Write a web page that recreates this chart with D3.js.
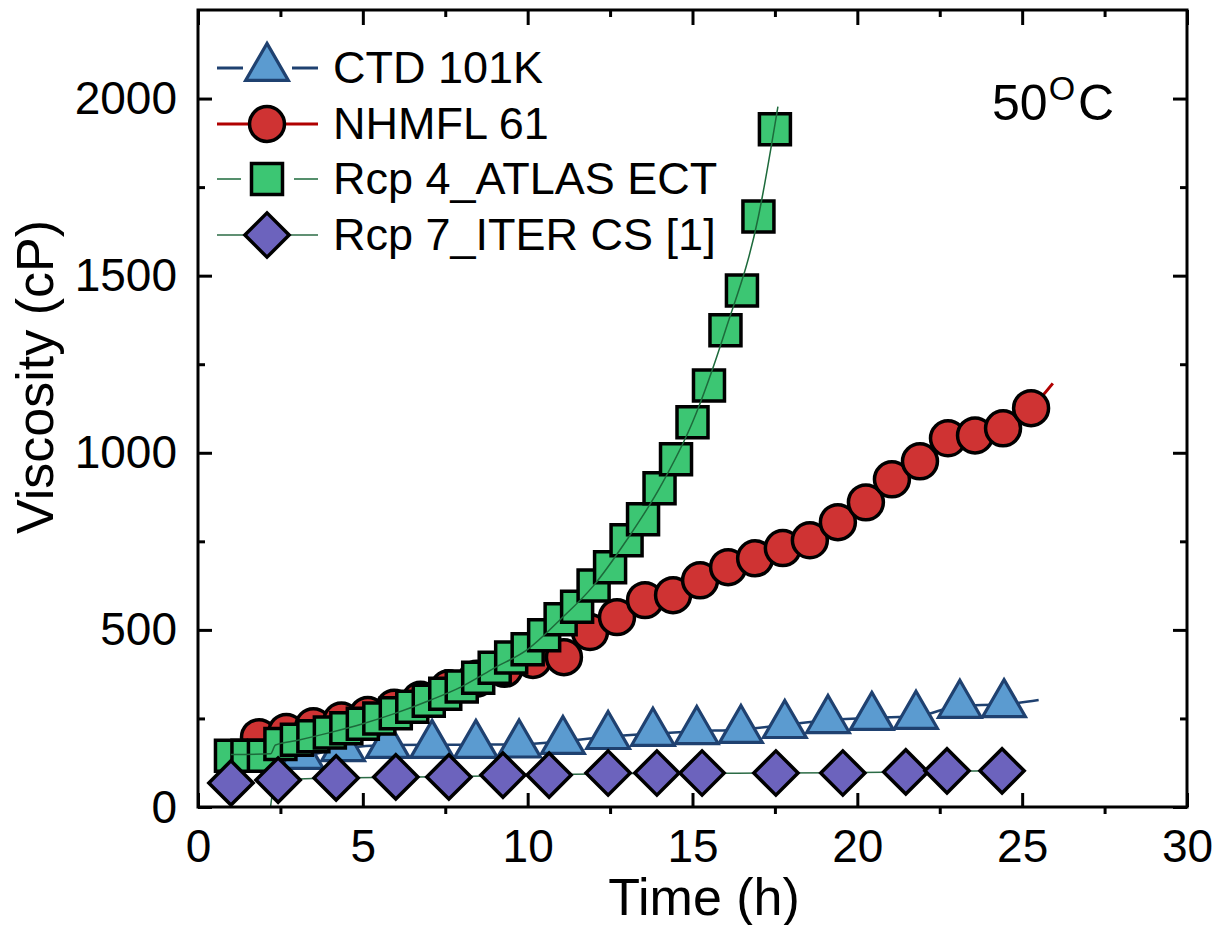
<!DOCTYPE html>
<html><head><meta charset="utf-8">
<script src="https://cdn.jsdelivr.net/npm/d3@7"></script>
<style>
body{margin:0;background:#fff}
svg{display:block}
text{font-family:"Liberation Sans",Arial,Helvetica,sans-serif;fill:#000}
</style>
</head><body>
<svg id="chart" width="1218" height="925"></svg>
<script>
// ---------- data ----------
const seriesNames = ["CTD 101K", "NHMFL 61", "Rcp 4_ATLAS ECT", "Rcp 7_ITER CS [1]"];

// CTD 101K (triangles)
const ctdTime = [3.15, 4.4, 5.76, 7.1, 8.43, 9.74, 11.07, 12.44, 13.8, 15.13, 16.47, 17.8, 19.11, 20.44, 21.78, 23.11, 24.45];
const ctdVisc = [144, 166, 175, 175, 175, 176, 186, 200, 209, 214, 217, 231, 245, 254, 257, 288, 290];
const ctdLineTime = [2.3, 3.15, 4.4, 5.8, 8.4, 9.7, 11.1, 12.4, 13.8, 15.1, 16.5, 17.8, 19.1, 20.4, 21.8, 23.1, 24.45, 25.5];
const ctdLineVisc = [140, 144, 166, 175, 176, 177, 186, 198, 207, 214, 219, 232, 245, 252, 256, 286, 290, 302];

// NHMFL 61 (circles)
const nhTime = [1.85, 2.68, 3.5, 4.35, 5.15, 5.95, 6.75, 7.6, 8.45, 9.3, 10.16, 11.1, 11.89, 12.71, 13.56, 14.41, 15.23, 16.08, 16.9, 17.74, 18.56, 19.41, 20.26, 21.05, 21.9, 22.75, 23.57, 24.42, 25.27];
const nhVisc = [197, 212, 228, 244, 260, 280, 303, 335, 362, 390, 415, 423, 494, 536, 584, 598, 640, 677, 702, 731, 753, 804, 860, 925, 976, 1041, 1049, 1069, 1126];
const nhLineTime = [1.85, 2.68, 3.5, 4.35, 5.15, 5.95, 6.75, 7.6, 8.45, 9.3, 10.16, 11.1, 11.89, 12.71, 13.56, 14.41, 15.23, 16.08, 16.9, 17.74, 18.56, 19.41, 20.26, 21.05, 21.9, 22.75, 23.57, 24.42, 25.27, 25.93];
const nhLineVisc = [197, 212, 228, 244, 260, 280, 303, 335, 362, 390, 415, 423, 494, 536, 584, 598, 640, 677, 702, 731, 753, 804, 860, 925, 976, 1041, 1049, 1069, 1126, 1196];

// Rcp 4_ATLAS ECT (squares)
const r4Time = [1.0, 1.5, 2.0, 2.5, 3.0, 3.5, 4.0, 4.5, 5.0, 5.5, 6.0, 6.5, 7.0, 7.5, 8.0, 8.5, 9.0, 9.5, 10.0, 10.5, 11.0, 11.5, 12.0, 12.5, 13.0, 13.5, 14.0, 14.5, 15.0, 15.5, 16.0, 16.5, 17.0, 17.5];
const r4Visc = [145, 145, 145, 178, 190, 200, 210, 222, 235, 250, 265, 283, 300, 320, 340, 365, 393, 422, 445, 485, 530, 565, 625, 677, 753, 812, 900, 982, 1086, 1190, 1346, 1458, 1667, 1913];
const r4LineTime = [1.0, 2.2, 2.35, 3.0, 4.0, 5.0, 6.0, 7.0, 8.0, 9.0, 10.0, 11.0, 12.0, 13.0, 14.0, 15.0, 16.0, 17.0, 17.59];
const r4LineVisc = [148, 150, 175, 188, 210, 235, 265, 300, 340, 393, 445, 530, 625, 753, 900, 1086, 1346, 1667, 1977];

// Rcp 7_ITER CS [1] (diamonds)
const r7Time = [1.0, 2.43, 4.19, 6.0, 7.61, 9.25, 10.65, 12.44, 13.92, 15.29, 17.53, 19.56, 21.47, 22.72, 24.39];
const r7Visc = [68, 76, 82, 85, 85, 90, 90, 96, 96, 96, 96, 96, 99, 102, 102];
const r7LineTime = [2.2, 2.35, 4.2, 6.0, 9.3, 12.4, 15.3, 17.5, 19.6, 21.5, 22.7, 24.4];
const r7LineVisc = [0, 75, 82, 84, 88, 94, 95, 96, 97, 99, 101, 102];

const xTicks = [0, 5, 10, 15, 20, 25, 30];
const xMinor = [2.5, 7.5, 12.5, 17.5, 22.5, 27.5];
const yTicks = [0, 500, 1000, 1500, 2000];
const yMinor = [250, 750, 1250, 1750];

// ---------- layout ----------
const svg = d3.select("#chart");
const L = 198, R = 1187, T = 10, B = 807;
const x = d3.scaleLinear().domain([0, 30]).range([L, R]);
const y = d3.scaleLinear().domain([0, 2250]).range([B, T]);

const styles = [
  {fill: "#5b9bd0", stroke: "#1f4170", sw: 3.2, line: "#1f4170", lw: 2.5, type: "tri"},
  {fill: "#cf3333", stroke: "#000", sw: 3.5, line: "#b00000", lw: 3, type: "circ"},
  {fill: "#3cc673", stroke: "#000", sw: 3.5, line: "#1d6a3b", lw: 1.5, type: "sq"},
  {fill: "#6c63bd", stroke: "#000", sw: 3.5, line: "#2b6b45", lw: 1.5, type: "dia"}
];
function symPath(type) {
  if (type === "tri") return d3.symbol().type(d3.symbolTriangle).size(790)();
  if (type === "circ") return d3.symbol().type(d3.symbolCircle).size(960)();
  if (type === "sq") return d3.symbol().type(d3.symbolSquare).size(961)();
  return d3.symbol().type(d3.symbolSquare).size(980)();
}
function symTransform(type, px, py) {
  return `translate(${px},${py})` + (type === "dia" ? " rotate(45)" : "");
}

const lineGen = d3.line().x(d => x(d[0])).y(d => y(d[1])).curve(d3.curveMonotoneX);
const zip = (a, b) => a.map((v, i) => [v, b[i]]);

const series = [
  {pts: zip(ctdTime, ctdVisc), line: zip(ctdLineTime, ctdLineVisc), lineOnTop: false},
  {pts: zip(nhTime, nhVisc), line: zip(nhLineTime, nhLineVisc), lineOnTop: false},
  {pts: zip(r4Time, r4Visc), line: zip(r4LineTime, r4LineVisc), lineOnTop: true},
  {pts: zip(r7Time, r7Visc), line: zip(r7LineTime, r7LineVisc), lineOnTop: false}
];

const plot = svg.append("g");
function drawLine(g, s, st) {
  g.append("path").attr("d", lineGen(s.line)).attr("fill", "none")
    .attr("stroke", st.line).attr("stroke-width", st.lw);
}
function drawMarkers(g, s, st) {
  g.selectAll(null).data(s.pts).enter().append("path")
    .attr("d", symPath(st.type))
    .attr("transform", d => symTransform(st.type, x(d[0]), y(d[1])))
    .attr("fill", st.fill).attr("stroke", st.stroke).attr("stroke-width", st.sw)
    .attr("stroke-linejoin", "miter");
}
series.forEach((s, i) => {
  const st = styles[i];
  const g = plot.append("g");
  if (!s.lineOnTop) drawLine(g, s, st);
  drawMarkers(g, s, st);
  if (s.lineOnTop) drawLine(g, s, st);
});

// ---------- axes ----------
const axG = svg.append("g");
const bottomMajor = axG.append("g").attr("transform", `translate(0,${B})`)
  .call(d3.axisBottom(x).tickValues(xTicks).tickSize(-14).tickFormat(d3.format("d")));
bottomMajor.select(".domain").remove();
bottomMajor.selectAll("text").attr("y", 55).attr("dy", 0).attr("font-size", 46)
  .attr("font-family", "'Liberation Sans',Arial,sans-serif").attr("fill", "#000");
const bottomMinor = axG.append("g").attr("transform", `translate(0,${B})`)
  .call(d3.axisBottom(x).tickValues(xMinor).tickSize(7).tickFormat(""));
bottomMinor.select(".domain").remove();
const topMajor = axG.append("g").attr("transform", `translate(0,${T})`)
  .call(d3.axisTop(x).tickValues(xTicks).tickSize(-15).tickFormat(""));
topMajor.select(".domain").remove();
const topMinor = axG.append("g").attr("transform", `translate(0,${T})`)
  .call(d3.axisTop(x).tickValues(xMinor).tickSize(-7).tickFormat(""));
topMinor.select(".domain").remove();
const leftMajor = axG.append("g").attr("transform", `translate(${L},0)`)
  .call(d3.axisLeft(y).tickValues(yTicks).tickSize(-14).tickFormat(d3.format("d")));
leftMajor.select(".domain").remove();
leftMajor.selectAll("text").attr("x", -21).attr("dy", 0).attr("y", 15).attr("font-size", 46)
  .attr("font-family", "'Liberation Sans',Arial,sans-serif").attr("fill", "#000");
const leftMinor = axG.append("g").attr("transform", `translate(${L},0)`)
  .call(d3.axisLeft(y).tickValues(yMinor).tickSize(-7).tickFormat(""));
leftMinor.select(".domain").remove();
const rightMajor = axG.append("g").attr("transform", `translate(${R},0)`)
  .call(d3.axisRight(y).tickValues(yTicks).tickSize(-14).tickFormat(""));
rightMajor.select(".domain").remove();
const rightMinor = axG.append("g").attr("transform", `translate(${R},0)`)
  .call(d3.axisRight(y).tickValues(yMinor).tickSize(-7).tickFormat(""));
rightMinor.select(".domain").remove();
axG.selectAll(".tick line").attr("stroke", "#000").attr("stroke-width", 3);
axG.append("rect").attr("x", L).attr("y", T).attr("width", R - L).attr("height", B - T)
  .attr("fill", "none").attr("stroke", "#000").attr("stroke-width", 3);

// axis titles
svg.append("text").attr("x", 704).attr("y", 915).attr("text-anchor", "middle")
  .attr("font-size", 52).text("Time (h)");
svg.append("text").attr("transform", "translate(53,377) rotate(-90)")
  .attr("text-anchor", "middle").attr("font-size", 52).text("Viscosity (cP)");

// temperature annotation
const temp = svg.append("text").attr("x", 992).attr("y", 120).attr("font-size", 50);
temp.append("tspan").text("50");
temp.append("tspan").attr("font-size", 34).attr("dy", -20).attr("dx", 1).text("O");
temp.append("tspan").attr("dy", 20).attr("dx", 3).text("C");

// ---------- legend ----------
const legY = [68, 124, 179, 235];
const legSegs = [[[217, 243], [292, 318]], [[217, 318]], [[217, 241], [294, 318]], [[217, 318]]];
const leg = svg.append("g");
seriesNames.forEach((name, i) => {
  const st = styles[i];
  legSegs[i].forEach(sg => {
    leg.append("line").attr("x1", sg[0]).attr("x2", sg[1]).attr("y1", legY[i]).attr("y2", legY[i])
      .attr("stroke", st.line).attr("stroke-width", i < 2 ? 3 : 1.5);
  });
  leg.append("path").attr("d", symPath(st.type)).attr("transform", symTransform(st.type, 267, legY[i]))
    .attr("fill", st.fill).attr("stroke", st.stroke).attr("stroke-width", st.sw);
  leg.append("text").attr("x", 333).attr("y", legY[i] + 15).attr("font-size", 45).text(name);
});
</script>
</body></html>
